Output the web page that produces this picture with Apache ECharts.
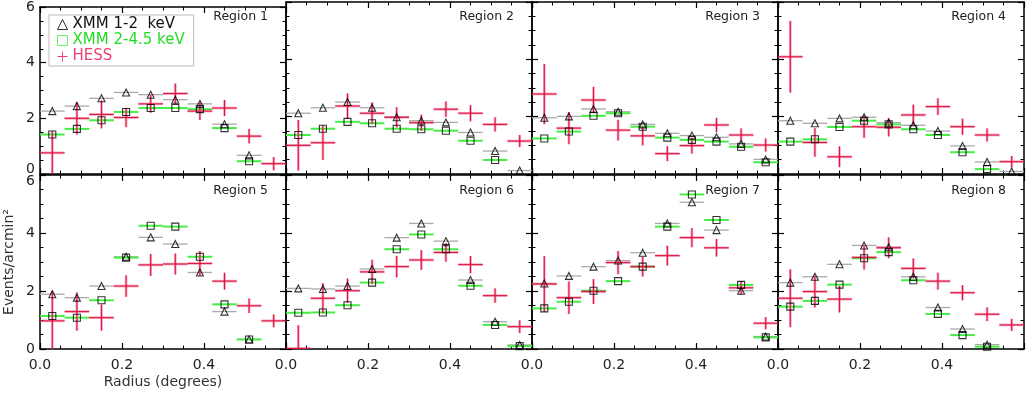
<!DOCTYPE html>
<html>
<head>
<meta charset="utf-8">
<script src="https://cdn.jsdelivr.net/npm/echarts/dist/echarts.min.js"></script>
<style>
html,body{margin:0;padding:0;background:#fff;}
#chart{width:1026px;height:394px;}
</style>
</head>
<body>
<div id="chart"></div>
<script>
// ---------------- data ----------------
const regionNames = ['Region 1','Region 2','Region 3','Region 4','Region 5','Region 6','Region 7','Region 8'];
const radius = [0.03,0.09,0.15,0.21,0.27,0.33,0.39,0.45,0.51,0.57];
const binHalfWidth = 0.03;
const xTicks = [0.0,0.2,0.4,0.6];
const yTicks = [0,2,4,6];

// XMM 1-2 keV (triangles)
const xmmSoft = [
  [2.26,2.44,2.72,2.93,2.85,2.67,2.52,1.79,0.67,null],
  [2.12,2.31,2.51,2.31,1.98,1.86,1.80,1.45,0.80,0.12],
  [1.96,2.01,2.27,2.17,1.73,1.42,1.34,1.28,1.05,0.51],
  [1.86,1.77,1.94,1.98,1.79,1.70,1.50,0.98,0.42,0.09],
  [1.89,1.77,2.17,3.18,3.85,3.62,2.64,1.29,0.33,null],
  [2.09,2.07,2.17,2.76,3.84,4.33,3.72,2.38,0.94,0.14],
  [2.26,2.52,2.84,3.05,3.32,4.33,5.06,4.10,2.01,0.43],
  [2.29,2.49,2.92,3.57,3.51,2.49,1.43,0.69,0.15,null]
];
// XMM 2-4.5 keV (squares)
const xmmHard = [
  [1.42,1.62,1.93,2.23,2.37,2.37,2.33,1.65,0.46,null],
  [1.36,1.58,1.82,1.77,1.58,1.56,1.51,1.16,0.49,null],
  [1.24,1.48,2.03,2.12,1.65,1.27,1.19,1.13,0.95,0.41],
  [1.13,1.21,1.64,1.86,1.73,1.56,1.36,0.76,0.17,null],
  [1.14,1.08,1.68,3.15,4.25,4.22,3.18,1.54,0.33,null],
  [1.25,1.26,1.51,2.29,3.44,3.95,3.44,2.18,0.83,0.10],
  [1.40,1.63,2.01,2.34,2.84,4.22,5.33,4.45,2.21,0.40],
  [1.46,1.66,2.22,3.13,3.34,2.37,1.21,0.48,0.08,null]
];
// HESS values and errors
const hess = [
  [0.76,2.00,2.14,2.03,2.52,2.89,2.26,2.37,1.36,0.37],
  [1.00,1.09,2.37,2.12,1.98,1.79,2.26,2.12,1.73,1.15],
  [2.79,1.60,2.58,1.53,1.33,0.71,0.99,1.71,1.36,1.01],
  [4.09,1.10,0.60,1.65,1.63,2.06,2.35,1.65,1.36,0.43],
  [0.97,1.29,1.08,2.17,2.90,2.93,2.95,2.34,1.49,0.97],
  [0.02,1.75,2.01,2.66,2.84,3.07,3.33,2.91,1.84,0.77],
  [2.24,1.77,1.98,2.98,2.84,3.22,3.84,3.49,2.11,0.89],
  [1.75,1.98,1.72,3.16,3.49,2.78,2.34,1.94,1.20,0.83]
];
const hessErr = [
  [0.78,0.58,0.50,0.35,0.32,0.36,0.32,0.29,0.26,0.24],
  [0.88,0.60,0.44,0.38,0.35,0.28,0.27,0.28,0.25,0.21],
  [1.05,0.56,0.46,0.36,0.33,0.26,0.28,0.25,0.23,0.23],
  [1.25,0.50,0.36,0.39,0.32,0.36,0.29,0.28,0.23,0.20],
  [1.03,0.66,0.45,0.37,0.38,0.36,0.43,0.29,0.25,0.22],
  [0.80,0.52,0.42,0.42,0.37,0.34,0.32,0.30,0.25,0.22],
  [0.96,0.56,0.43,0.40,0.34,0.34,0.33,0.30,0.23,0.21],
  [1.00,0.55,0.46,0.42,0.36,0.34,0.29,0.26,0.24,0.21]
];
const seriesNames = ['XMM 1-2  keV','XMM 2-4.5 keV','HESS'];
const xAxisTitle = 'Radius (degrees)';
const yAxisTitle = 'Events/arcmin²';

// ---------------- layout / style ----------------
const FONT = 'DejaVu Sans';
const GREEN = '#44ee44';
const GRAY = '#aaaaaa';
const RED_THIN = '#dd1040';
const RED_THICK = 'rgba(236,70,110,0.5)';
const PANEL_W = 246, PANEL_L = 40;

const grids = [], xAxes = [], yAxes = [], series = [], titles = [];

function hBarRender(color, width) {
  return function (params, api) {
    const x = api.value(0), y = api.value(1);
    const a = api.coord([x - binHalfWidth, y]);
    const b = api.coord([x + binHalfWidth, y]);
    return {type:'line', shape:{x1:a[0], y1:a[1], x2:b[0], y2:b[1]},
            style:{stroke:color, lineWidth:width}};
  };
}
function crossRender(params, api) {
  const x = api.value(0), y = api.value(1), e = api.value(2);
  const a = api.coord([x - binHalfWidth, y]);
  const b = api.coord([x + binHalfWidth, y]);
  const c = api.coord([x, y - e]);
  const d = api.coord([x, y + e]);
  return {type:'group', children:[
    {type:'line', shape:{x1:a[0],y1:a[1],x2:b[0],y2:b[1]}, style:{stroke:RED_THICK, lineWidth:2.6}},
    {type:'line', shape:{x1:c[0],y1:c[1],x2:d[0],y2:d[1]}, style:{stroke:RED_THICK, lineWidth:2.6}},
    {type:'line', shape:{x1:a[0],y1:a[1],x2:b[0],y2:b[1]}, style:{stroke:RED_THIN, lineWidth:1}},
    {type:'line', shape:{x1:c[0],y1:c[1],x2:d[0],y2:d[1]}, style:{stroke:RED_THIN, lineWidth:1}}
  ]};
}

const axisLineStyle = {show:true, onZero:false, lineStyle:{color:'#000', width:1.5}};
const tickStyle = {show:true, inside:true, length:6, lineStyle:{color:'#000', width:1.2}};
const minorStyle = {show:true, splitNumber:4, length:3.5, lineStyle:{color:'#000', width:1}};

for (let r = 0; r < 8; r++) {
  const row = r < 4 ? 0 : 1, col = r % 4;
  const left = PANEL_L + PANEL_W * col;
  grids.push({left: left, width: PANEL_W, top: row ? 175 : 2, height: row ? 174 : 172});

  const xb = {
    gridIndex: r, type: 'value', min: xTicks[0], max: xTicks[xTicks.length-1], interval: 0.2,
    position: 'bottom', axisLine: axisLineStyle, axisTick: tickStyle, minorTick: minorStyle,
    splitLine: {show:false},
    axisLabel: {show: row === 1, formatter: v => v.toFixed(1), showMaxLabel: false, showMinLabel: true,
                fontSize: 14, color: '#222', fontFamily: FONT, margin: 9}
  };
  if (r === 4) {
    xb.name = xAxisTitle; xb.nameLocation = 'middle'; xb.nameGap = 26;
    xb.nameTextStyle = {fontSize: 14, color: '#333', fontFamily: FONT};
  }
  xAxes.push(xb);
  xAxes.push({
    gridIndex: r, type: 'value', min: xTicks[0], max: xTicks[xTicks.length-1], interval: 0.2,
    position: 'top', axisLine: axisLineStyle, axisTick: tickStyle, minorTick: minorStyle,
    splitLine: {show:false}, axisLabel: {show:false}
  });

  const yl = {
    gridIndex: r, type: 'value', min: yTicks[0], max: yTicks[yTicks.length-1], interval: 2,
    position: 'left', axisLine: axisLineStyle, axisTick: tickStyle, minorTick: minorStyle,
    splitLine: {show:false},
    axisLabel: {
      show: col === 0, fontSize: 14, color: '#222', fontFamily: FONT, margin: 5,
      formatter: function (v) {
        if (row === 0 && v === 0) return '{lo|0}';
        if (row === 1 && v === 6) return '{hi|6}';
        return String(v);
      },
      rich: {
        lo: {fontSize: 14, color: '#222', fontFamily: FONT, padding: [0,0,10,0]},
        hi: {fontSize: 14, color: '#222', fontFamily: FONT, padding: [12,0,0,0]}
      }
    }
  };
  if (r === 4) {
    yl.name = yAxisTitle; yl.nameLocation = 'middle'; yl.nameGap = 24; yl.nameRotate = 90;
    yl.nameTextStyle = {fontSize: 14, color: '#333', fontFamily: FONT};
  }
  yAxes.push(yl);
  yAxes.push({
    gridIndex: r, type: 'value', min: yTicks[0], max: yTicks[yTicks.length-1], interval: 2,
    position: 'right', axisLine: axisLineStyle, axisTick: tickStyle, minorTick: minorStyle,
    splitLine: {show:false}, axisLabel: {show:false}
  });

  titles.push({
    text: regionNames[r], right: 753 - PANEL_W * col, top: row ? 179 : 5,
    textStyle: {fontSize: 12.5, fontWeight: 'normal', color: '#222', fontFamily: FONT}
  });

  const softData = [], hardData = [], hessData = [];
  radius.forEach((x, i) => {
    if (xmmSoft[r][i] != null) softData.push([x, xmmSoft[r][i]]);
    if (xmmHard[r][i] != null) hardData.push([x, xmmHard[r][i]]);
    if (hess[r][i] != null) hessData.push([x, hess[r][i], hessErr[r][i]]);
  });
  const xi = 2 * r, yi = 2 * r;
  series.push({type:'custom', name:'softBars', xAxisIndex:xi, yAxisIndex:yi, clip:true,
               renderItem: hBarRender(GRAY, 1.3), data: softData, encode:{x:0, y:1}, silent:true});
  series.push({type:'custom', name:'hardBars', xAxisIndex:xi, yAxisIndex:yi, clip:true,
               renderItem: hBarRender(GREEN, 2), data: hardData, encode:{x:0, y:1}, silent:true});
  series.push({type:'custom', name:seriesNames[2], xAxisIndex:xi, yAxisIndex:yi, clip:true,
               renderItem: crossRender, data: hessData, encode:{x:0, y:1},
               itemStyle:{color:'#ee4070'}, silent:true});
  series.push({type:'scatter', name:seriesNames[0], xAxisIndex:xi, yAxisIndex:yi, data: softData,
               symbol:'triangle', symbolSize:7,
               itemStyle:{color:'rgba(255,255,255,0)', borderColor:'#000', borderWidth:1.1}, silent:true});
  series.push({type:'scatter', name:seriesNames[1], xAxisIndex:xi, yAxisIndex:yi, data: hardData,
               symbol:'rect', symbolSize:7,
               itemStyle:{color:'rgba(255,255,255,0)', borderColor:'#000', borderWidth:1.1}, silent:true});
}

const option = {
  backgroundColor: '#fff',
  animation: false,
  title: titles,
  grid: grids,
  xAxis: xAxes,
  yAxis: yAxes,
  legend: {
    orient: 'vertical', left: 49, top: 15, itemGap: 1, itemWidth: 10, itemHeight: 10,
    padding: [2, 9, 2, 8], borderColor: '#bbb', borderWidth: 1, selectedMode: false,
    textStyle: {fontSize: 15, fontFamily: FONT, lineHeight: 15},
    data: [
      {name: seriesNames[0], icon: 'triangle',
       itemStyle: {color: 'rgba(255,255,255,0)', borderColor: '#000', borderWidth: 1},
       textStyle: {color: '#111'}},
      {name: seriesNames[1], icon: 'rect',
       itemStyle: {color: 'rgba(255,255,255,0)', borderColor: GREEN, borderWidth: 1},
       textStyle: {color: '#22dd22'}},
      {name: seriesNames[2], icon: 'path://M5,0h1v5h5v1h-5v5h-1v-5h-5v-1h5z',
       itemStyle: {color: '#ee4070', borderWidth: 0},
       textStyle: {color: '#ee4070'}}
    ]
  },
  series: series
};

const chart = echarts.init(document.getElementById('chart'), null, {renderer: 'canvas'});
chart.setOption(option);
</script>
</body>
</html>
